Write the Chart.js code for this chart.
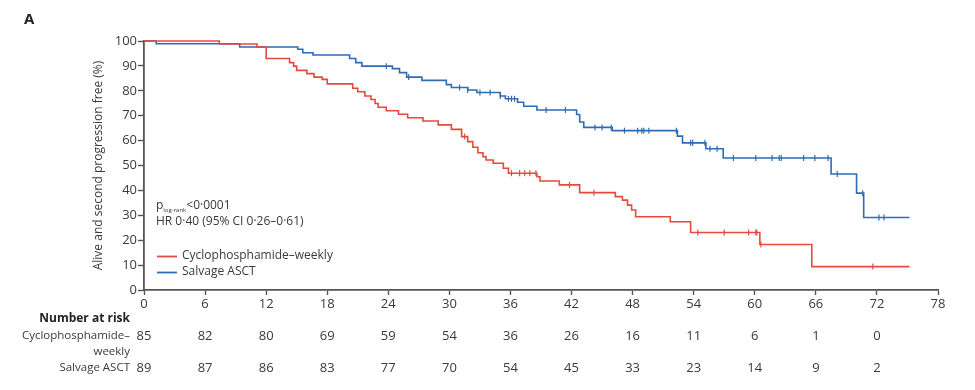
<!DOCTYPE html>
<html>
<head>
<meta charset="utf-8">
<script src="https://cdn.jsdelivr.net/npm/chart.js@4.4.0/dist/chart.umd.min.js"></script>
<style>
  html, body { margin: 0; padding: 0; background: #fff; }
  #wrap { width: 975px; height: 390px; }
</style>
</head>
<body>
<div id="wrap"><canvas id="grafico" width="975" height="390"></canvas></div>
<script>
// Kaplan-Meier steps (months, % alive and 2nd-progression free)
const cycloTimes = [0, 7.4, 11.1, 12.0, 14.3, 14.7, 15.0, 16.0, 16.7, 17.5, 18.0, 20.5, 21.0, 21.7, 22.3, 22.7, 23.0, 23.8, 25.0, 25.9, 27.4, 28.9, 30.2, 31.2, 31.8, 32.3, 32.8, 33.3, 33.6, 34.3, 35.3, 35.8, 38.6, 38.9, 40.8, 42.8, 46.3, 47.0, 47.5, 47.9, 48.3, 51.7, 53.7, 60.5, 65.6, 75.2]
const cycloSurv = [100, 98.8, 97.6, 93.0, 91.3, 89.9, 88.2, 86.9, 85.5, 84.6, 82.8, 81.0, 79.6, 77.9, 76.5, 74.9, 73.4, 72.0, 70.6, 69.2, 67.9, 66.3, 64.5, 61.6, 59.6, 57.3, 55.1, 53.5, 52.2, 50.9, 48.9, 46.9, 45.5, 43.8, 42.2, 39.1, 37.5, 36.1, 34.1, 32.1, 29.4, 27.4, 23.1, 18.3, 9.4, 9.4]
const cycloCensor = [31.5, 36.1, 36.9, 37.4, 37.9, 38.5, 41.8, 44.2, 54.4, 57.0, 59.4, 60.1, 60.2, 60.6, 71.6]

const salvageTimes = [0, 1.2, 9.4, 15.1, 15.6, 16.6, 20.2, 20.8, 21.4, 24.4, 25.1, 25.8, 27.3, 29.7, 30.2, 31.8, 32.7, 35.0, 35.5, 36.7, 37.3, 38.6, 42.5, 42.8, 43.2, 46.0, 52.4, 52.9, 55.2, 56.9, 67.5, 70.0, 70.7, 75.2]
const salvageSurv = [100, 98.9, 97.6, 96.7, 95.3, 94.4, 93.0, 91.3, 89.9, 88.9, 87.3, 85.5, 84.2, 82.5, 81.3, 80.3, 79.3, 77.9, 76.8, 75.4, 73.8, 72.3, 70.5, 67.5, 65.3, 64.0, 61.8, 59.1, 56.7, 53.0, 46.6, 38.9, 29.1, 29.1]
const salvageCensor = [23.8, 26.0, 31.0, 31.8, 33.0, 34.0, 35.0, 35.8, 36.1, 36.4, 39.5, 41.4, 44.3, 45.0, 45.9, 47.2, 48.5, 48.9, 49.1, 49.6, 52.3, 53.7, 53.9, 55.1, 55.6, 56.3, 57.9, 60.1, 61.7, 62.4, 62.6, 64.8, 65.9, 67.2, 68.1, 70.6, 72.2, 72.7]

// number at risk table
const riskTimes = [0, 6, 12, 18, 24, 30, 36, 42, 48, 54, 60, 66, 72]
const riskCyclo = [85, 82, 80, 69, 59, 54, 36, 26, 16, 11, 6, 1, 0]
const riskSalvage = [89, 87, 86, 83, 77, 70, 54, 45, 33, 23, 14, 9, 2]

const RED = '#e8483f'
const BLUE = '#2f6cb3'
const AXIS = '#555555'
const TXT = '#3a3a3a'
const FONT = '"Open Sans", sans-serif'

function toPoints(times, surv) {
  return times.map((t, i) => ({ x: t, y: surv[i] }))
}

function survAt(times, surv, t) {
  let v = surv[0]
  for (let i = 0; i < times.length; i++) {
    if (times[i] <= t) v = surv[i]
  }
  return v
}

function censorPoints(censor, times, surv) {
  return censor.map(t => ({ x: t, y: survAt(times, surv, t) }))
}

const extras = {
  id: 'extras',
  afterDraw(chart) {
    const ctx = chart.ctx
    const xs = chart.scales.x
    ctx.save()
    ctx.fillStyle = '#222'
    ctx.font = 'bold 15px ' + FONT
    ctx.textBaseline = 'middle'
    ctx.fillText('A', 24, 20)

    // p value and HR
    ctx.fillStyle = TXT
    ctx.font = '12px ' + FONT
    ctx.textAlign = 'left'
    ctx.fillText('p', 156, 206)
    let w = ctx.measureText('p').width
    ctx.font = '6px ' + FONT
    ctx.fillText('log-rank', 156 + w, 210)
    w += ctx.measureText('log-rank').width
    ctx.font = '12px ' + FONT
    ctx.fillText('<0·0001', 156 + w, 206)
    ctx.fillText('HR 0·40 (95% CI 0·26–0·61)', 156, 222)

    // legend
    ctx.lineWidth = 1.8
    ctx.strokeStyle = RED
    ctx.beginPath(); ctx.moveTo(157, 256.5); ctx.lineTo(177, 256.5); ctx.stroke()
    ctx.strokeStyle = BLUE
    ctx.beginPath(); ctx.moveTo(157, 272.5); ctx.lineTo(177, 272.5); ctx.stroke()
    ctx.fillText('Cyclophosphamide–weekly', 182, 256)
    ctx.fillText('Salvage ASCT', 182, 272)

    // number at risk
    ctx.textAlign = 'right'
    ctx.font = 'bold 12px ' + FONT
    ctx.fillStyle = '#222'
    ctx.fillText('Number at risk', 130, 319)
    ctx.font = '11.5px ' + FONT
    ctx.fillStyle = TXT
    ctx.fillText('Cyclophosphamide–', 130, 336)
    ctx.fillText('weekly', 130, 352)
    ctx.fillText('Salvage ASCT', 130, 368)
    ctx.textAlign = 'center'
    ctx.font = '13px ' + FONT
    riskTimes.forEach((t, i) => {
      const px = xs.getPixelForValue(t)
      ctx.fillText(String(riskCyclo[i]), px, 336)
      ctx.fillText(String(riskSalvage[i]), px, 368)
    })
    ctx.restore()
  }
}

const grafico = document.getElementById('grafico').getContext('2d')

new Chart(grafico, {
  type: 'line',
  data: {
    datasets: [
      {
        label: 'Cyclophosphamide–weekly',
        data: toPoints(cycloTimes, cycloSurv),
        borderColor: RED,
        borderWidth: 1.6,
        stepped: 'before',
        pointRadius: 0,
        clip: false,
        fill: false
      },
      {
        label: 'Salvage ASCT',
        data: toPoints(salvageTimes, salvageSurv),
        borderColor: BLUE,
        borderWidth: 1.6,
        stepped: 'before',
        pointRadius: 0,
        clip: false,
        fill: false
      },
      {
        label: 'censored cyclo',
        type: 'scatter',
        data: censorPoints(cycloCensor, cycloTimes, cycloSurv),
        pointStyle: 'line',
        rotation: 90,
        pointRadius: 3,
        borderColor: RED,
        borderWidth: 1.2,
        clip: false,
        showLine: false
      },
      {
        label: 'censored salvage',
        type: 'scatter',
        data: censorPoints(salvageCensor, salvageTimes, salvageSurv),
        pointStyle: 'line',
        rotation: 90,
        pointRadius: 3,
        borderColor: BLUE,
        borderWidth: 1.2,
        clip: false,
        showLine: false
      }
    ]
  },
  options: {
    responsive: false,
    animation: false,
    layout: { padding: { left: 0, top: 41, right: 37, bottom: 80 } },
    plugins: {
      legend: { display: false },
      tooltip: { enabled: false }
    },
    scales: {
      x: {
        type: 'linear',
        min: 0,
        max: 78,
        afterFit: s => { s.height = 20 },
        border: { color: AXIS, width: 1.8 },
        grid: { drawOnChartArea: false, drawTicks: true, tickLength: 5, tickColor: AXIS, tickWidth: 1.4 },
        ticks: { stepSize: 6, padding: 1, color: TXT, font: { family: FONT, size: 13 }, maxRotation: 0 }
      },
      y: {
        min: 0,
        max: 100,
        afterFit: s => { s.width = 144 },
        border: { color: AXIS, width: 1.8 },
        grid: { drawOnChartArea: false, drawTicks: true, tickLength: 6, tickColor: AXIS, tickWidth: 1.4 },
        ticks: { stepSize: 10, padding: 1, color: TXT, font: { family: FONT, size: 13 } },
        title: {
          display: true,
          text: 'Alive and second progression free (%)',
          color: TXT,
          font: { family: FONT, size: 12 },
          padding: { top: 91, bottom: 0 }
        }
      }
    }
  },
  plugins: [extras]
})
</script>
</body>
</html>
